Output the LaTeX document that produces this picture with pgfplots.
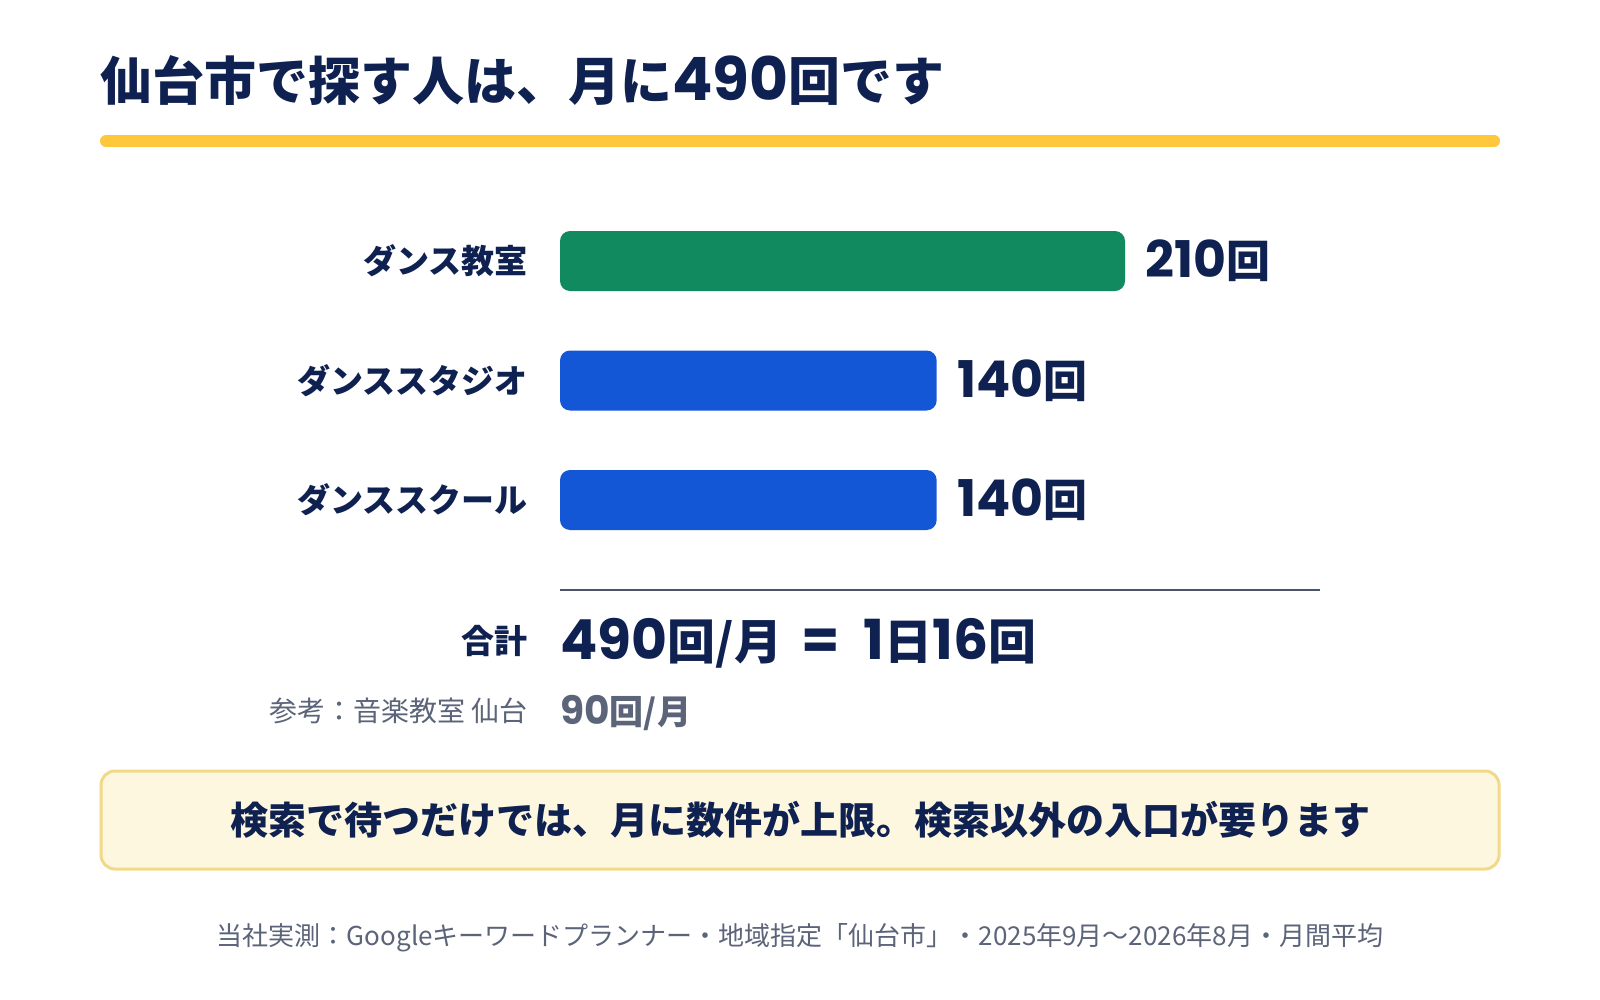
\documentclass[border=0pt]{standalone}
\usepackage{fontspec}
\setmainfont{Noto Sans CJK JP}
\newfontfamily\num[Scale=1.15]{Poppins}
\usepackage{pgfplots}
\pgfplotsset{compat=1.18}
\definecolor{navy}{HTML}{0F2150}
\definecolor{slate}{HTML}{5B6479}
\definecolor{sepc}{HTML}{4A5468}
\definecolor{ylw}{HTML}{FFC83C}
\definecolor{barg}{HTML}{108A5E}
\definecolor{barb}{HTML}{1457D6}
\definecolor{boxf}{HTML}{FEF7E0}
\definecolor{boxb}{HTML}{F2D98A}
\newcommand{\fs}[1]{\fontsize{#1}{#1}\selectfont}
\begin{document}
\begin{tikzpicture}[x=0.5pt,y=-0.5pt]
\fill[white] (0,0) rectangle (1600,1000);
% title
\node[anchor=base west, inner sep=0pt, text=navy, font=\bfseries\fs{26}] at (100,101) {仙台市で探す人は、月に{\num 490}回です};
\draw[line width=6pt, line cap=round, color=ylw] (106,141) -- (1494,141);
% bars
\begin{axis}[
  at={(280pt,-100.625pt)}, anchor=north west,
  scale only axis, width=376.67pt, height=179.25pt,
  xmin=0, xmax=280, ymin=-0.5, ymax=2.5, y dir=reverse,
  enlargelimits=false,
  xbar, bar width=30pt, bar shift=0pt,
  axis line style={draw=none},
  xtick=\empty, ytick={0,1,2},
  yticklabels={ダンス教室,ダンススタジオ,ダンススクール},
  major tick length=0pt,
  yticklabel style={anchor=east, inner sep=0pt, xshift=-16pt, font=\bfseries\fs{16.5}, text=navy},
  clip=false,
  point meta=x,
  nodes near coords={{\num\pgfmathprintnumber[assume math mode=true]{\pgfplotspointmeta}}回},
  every node near coord/.append style={anchor=west, inner sep=0pt, xshift=10pt, font=\bfseries\fs{22}, text=navy},
]
\addplot[fill=barg, draw=none, rounded corners=5pt] coordinates {(210,0)};
\addplot[fill=barb, draw=none, rounded corners=5pt] coordinates {(140,1)};
\addplot[fill=barb, draw=none, rounded corners=5pt] coordinates {(140,2)};
\end{axis}
% separator and totals
\draw[line width=1pt, color=sepc] (560,590) -- (1320,590);
\node[anchor=base east, inner sep=0pt, text=navy, font=\bfseries\fs{16.5}] at (528,653.5) {合計};
\node[anchor=base west, inner sep=0pt, text=navy, font=\bfseries\fs{24}] at (560,659) {{\num 490}回/月\hspace{0.4em}{\num =}\hspace{0.5em}{\num 1}日{\num 16}回};
\node[anchor=base east, inner sep=0pt, text=slate, font=\fs{14}] at (528,721.6) {参考：音楽教室 仙台};
\node[anchor=base west, inner sep=0pt, text=slate, font=\bfseries\fs{17}] at (560,724) {{\num 90}回/月};
% note box
\draw[line width=1.5pt, draw=boxb, fill=boxf, rounded corners=7pt] (101,771) rectangle (1499,869);
\node[anchor=base, inner sep=0pt, text=navy, font=\bfseries\fs{19}] at (800,834) {検索で待つだけでは、月に数件が上限。検索以外の入口が要ります};
% footnote
\node[anchor=base, inner sep=0pt, text=slate, font=\fs{13}] at (800,945) {当社実測：Googleキーワードプランナー・地域指定「仙台市」・2025年9月〜2026年8月・月間平均};
\end{tikzpicture}
\end{document}
